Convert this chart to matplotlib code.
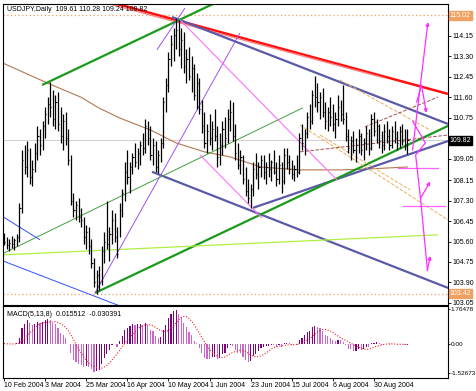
import numpy as np
import pandas as pd
import matplotlib
matplotlib.use("Agg")
import matplotlib.pyplot as plt
from matplotlib.transforms import blended_transform_factory

# ==================== DATA ====================
# daily USDJPY bars, 10 Feb 2004 .. mid Sep 2004
highs = [
    105.95, 105.80, 105.70, 105.85, 105.75, 105.90, 107.20, 109.40, 109.60, 109.80,
    109.50, 109.00, 109.70, 110.40, 110.30, 110.60, 111.20, 111.60, 112.25, 111.90,
    111.70, 111.80, 111.20, 110.90, 111.00, 110.30, 109.20, 107.60, 107.30, 107.40,
    107.00, 106.60, 106.30, 106.20, 105.70, 104.90, 104.40, 104.60, 105.40, 106.00,
    107.30, 106.20, 106.90, 106.80, 106.20, 107.20, 107.80, 108.90, 109.40, 108.90,
    109.30, 109.70, 109.50, 109.80, 110.10, 110.70, 110.60, 110.40, 109.90, 109.80,
    109.40, 109.90, 111.60, 112.40, 113.50, 114.20, 114.50, 114.90, 114.80, 114.50,
    114.30, 113.60, 113.70, 113.30, 113.00, 112.60, 112.40, 111.50, 111.00, 110.50,
    110.90, 110.60, 111.10, 110.40, 110.10, 110.60, 110.80, 111.10, 111.50, 111.40,
    110.50, 109.70, 109.40, 109.20, 108.70, 108.20, 108.00, 108.90, 109.30, 108.90,
    109.20, 109.20, 108.90, 109.30, 109.00, 109.40, 108.90, 109.20, 108.90, 109.50,
    109.50, 109.20, 109.00, 108.80, 109.20, 110.10, 110.50, 110.30, 111.00, 111.30,
    111.90, 112.50, 112.20, 111.80, 112.00, 111.40, 111.20, 111.60, 111.30, 111.00,
    111.70, 111.50, 112.10, 111.00, 110.30, 110.00, 110.20, 109.90, 110.30, 110.10,
    109.90, 110.40, 110.30, 110.90, 111.00, 110.70, 110.50, 110.20, 110.50, 110.60,
    110.30, 110.40, 110.60, 110.20, 110.40, 110.50, 110.30, 110.28,
]
lows = [
    105.45, 105.30, 105.20, 105.35, 105.25, 105.40, 105.60, 106.80, 108.40, 108.30,
    108.00, 107.90, 108.50, 109.00, 109.20, 109.40, 109.90, 110.50, 110.80, 110.40,
    110.30, 110.20, 109.70, 109.40, 109.60, 108.80, 107.10, 106.60, 106.50, 106.40,
    106.20, 105.50, 105.30, 105.10, 104.50, 103.70, 103.42, 103.60, 103.80, 104.70,
    105.30, 104.80, 105.50, 105.60, 104.90, 105.80, 106.60, 107.30, 108.00, 107.60,
    108.40, 108.70, 108.60, 108.80, 109.20, 109.30, 109.60, 109.00, 108.80, 108.50,
    108.45, 108.90, 109.50, 111.00, 111.80, 112.90, 113.10, 113.60, 113.30, 112.80,
    112.60, 112.20, 112.30, 111.80, 111.50, 111.10, 110.90, 110.10, 109.50, 109.30,
    109.60, 109.40, 109.80, 108.70, 108.80, 109.20, 109.50, 109.70, 110.20, 109.80,
    109.00, 108.60, 108.40, 108.00, 107.50, 107.20, 107.00, 107.50, 108.20, 107.80,
    108.30, 108.20, 108.00, 108.30, 108.10, 108.40, 107.90, 108.00, 107.60, 108.00,
    108.60, 108.40, 108.20, 108.10, 108.30, 108.40, 109.40, 109.20, 109.90, 110.30,
    110.50, 111.20, 111.00, 110.70, 110.80, 110.30, 110.20, 110.40, 110.20, 109.90,
    110.40, 110.60, 110.50, 109.80, 109.30, 109.00, 109.30, 108.90, 109.30, 109.20,
    109.00, 109.40, 109.20, 109.40, 110.00, 109.70, 109.50, 109.30, 109.40, 109.70,
    109.40, 109.50, 109.70, 109.40, 109.50, 109.60, 109.40, 109.24,
]
closes = [
    105.60, 105.45, 105.55, 105.50, 105.65, 105.80, 107.00, 109.00, 108.70, 109.40,
    108.30, 108.60, 109.30, 110.00, 109.60, 110.40, 110.90, 111.30, 111.20, 110.70,
    111.40, 110.50, 110.00, 110.60, 109.90, 109.00, 107.30, 106.90, 107.10, 106.60,
    106.50, 105.80, 106.00, 105.40, 104.70, 103.90, 104.20, 103.90, 105.20, 105.60,
    105.50, 105.90, 106.50, 105.80, 105.10, 106.90, 107.60, 108.50, 108.30, 108.70,
    109.10, 108.90, 109.30, 109.60, 109.50, 110.40, 109.90, 109.20, 109.60, 108.70,
    109.20, 109.70, 111.40, 112.10, 113.20, 113.80, 114.20, 114.40, 113.60, 114.00,
    112.90, 113.20, 112.50, 112.80, 111.70, 112.20, 111.10, 110.40, 109.70, 110.20,
    109.90, 110.30, 110.00, 109.10, 109.60, 110.30, 109.90, 110.70, 111.00, 110.00,
    109.30, 108.80, 109.10, 108.20, 107.70, 107.40, 107.80, 108.60, 108.40, 108.70,
    109.00, 108.50, 108.70, 108.60, 108.90, 108.50, 108.20, 108.80, 108.10, 109.20,
    108.90, 108.60, 108.40, 108.60, 108.50, 109.90, 109.70, 110.10, 110.80, 110.60,
    111.70, 111.60, 111.40, 111.60, 111.00, 110.60, 111.00, 110.80, 110.50, 110.70,
    111.20, 110.90, 110.70, 110.00, 109.50, 109.80, 109.40, 109.60, 110.00, 109.40,
    109.70, 110.10, 109.50, 110.70, 110.20, 110.40, 109.80, 109.60, 110.20, 110.00,
    109.60, 110.20, 109.90, 109.70, 110.20, 109.80, 109.61, 109.82,
]

date_labels = ["10 Feb 2004", "3 Mar 2004", "25 Mar 2004", "16 Apr 2004", "10 May 2004",
               "1 Jun 2004", "23 Jun 2004", "15 Jul 2004", "6 Aug 2004", "30 Aug 2004"]
date_pos = [0, 16, 32, 48, 64, 80, 96, 112, 128, 144]

price_ticks = [103.05, 103.90, 104.75, 105.60, 106.45, 107.30, 108.15, 109.05,
               110.75, 111.60, 112.45, 113.30, 114.15]
macd_ticks = [-1.52673, 0.0, 1.76478]

# 200-day moving average, read every few bars (bar index, price)
ma_idx = [-0.4, 18, 30, 37, 45, 57, 67, 78, 88, 100, 115, 131, 142, 157]
ma_val = [113.02, 112.14, 111.60, 111.15, 110.74, 110.24, 109.70, 109.33, 109.12, 108.70,
          108.58, 108.58, 108.62, 108.70]

# trend lines drawn on the chart: (i0, p0, i1, p1, colour, width, style)
trend_lines = [
    (42.0, 115.54, 172.8, 111.74, "#ff1010", 1.8, "-"),
    (42.4, 115.44, 148.2, 112.40, "#ff8080", 1.0, "-"),
    (65.4, 114.94, 172.8, 110.49, "#5a5aa8", 1.6, "-"),
    (57.6, 108.50, 172.8, 103.67, "#5a5aa8", 1.6, "-"),
    (96.9, 107.00, 172.8, 109.78, "#5a5aa8", 1.6, "-"),
    (35.4, 103.46, 172.8, 110.41, "#1a9a1a", 1.6, "-"),
    (14.8, 112.11, 90.0, 115.92, "#1a9a1a", 1.6, "-"),
    (-1.6, 105.04, 116.3, 111.16, "#40a040", 0.7, "-"),
    (-1.6, 105.04, 168.9, 105.88, "#b0f040", 0.9, "-"),
    (-1.6, 106.71, 14.0, 105.67, "#3050ff", 0.7, "-"),
    (-1.6, 104.84, 49.0, 102.76, "#3050ff", 0.7, "-"),
    (35.4, 103.46, 91.8, 114.27, "#a050f0", 0.7, "-"),
    (59.5, 113.57, 70.4, 115.31, "#a050f0", 0.7, "-"),
    (68.5, 114.82, 129.6, 108.16, "#ff70ff", 0.8, "-"),
    (76.3, 109.20, 100.4, 106.58, "#ff70ff", 0.8, "-"),
    (115.2, 110.45, 172.8, 106.50, "#e8b060", 0.7, "--"),
    (130.7, 112.32, 165.8, 110.24, "#e8b060", 0.7, "--"),
    (123.0, 110.03, 158.0, 107.75, "#e8b060", 0.7, "--"),
    (140.5, 110.37, 168.9, 111.61, "#a05050", 0.7, "--"),
    (115.2, 109.33, 172.8, 110.03, "#a05050", 0.7, "--"),
]

# forecast zig-zags on the right (bar index, price)
arrow_paths = [
    [(159.0, 109.40), (165.0, 114.73)],
    [(160.6, 111.40), (162.5, 112.10), (164.4, 110.95)],
    [(159.1, 110.60), (164.0, 109.70), (160.2, 109.20), (162.1, 107.40), (165.9, 108.10)],
    [(162.1, 107.40), (164.8, 104.40), (165.9, 105.00)],
]
magenta_levels = [(153.3, 168.9, 108.66), (155.3, 171.6, 107.08)]

last_close = 109.82
hi_mark = 115.02
lo_mark = 103.42

# ==================== PLOT ====================
plt.rcParams["font.family"] = ["Liberation Sans", "DejaVu Sans"]
FS = 5.0
idx = np.arange(len(closes))

fig = plt.figure(figsize=(4.76, 3.91), dpi=100)
ax = fig.add_axes([3 / 476, 1 - 305 / 391, 445 / 476, 301 / 391])
axm = fig.add_axes([3 / 476, 1 - 378 / 391, 445 / 476, 72 / 391])

ax.set_xlim(-0.4, 172.8)
ax.set_ylim(102.96, 115.48)
axm.set_xlim(-0.4, 172.8)
axm.set_ylim(-1.77, 1.93)

# high / low / bid lines
ax.axhline(hi_mark, color="#f0a060", ls=(0, (1, 2)), lw=0.9)
ax.axhline(lo_mark, color="#f0a060", ls=(0, (1, 2)), lw=0.9)
ax.axhline(last_close, color="#c8c8c8", lw=0.6)

ax.plot(ma_idx, ma_val, color="#b07850", lw=0.8)

for i0, p0, i1, p1, c, w, s in trend_lines:
    ax.plot([i0, i1], [p0, p1], color=c, lw=w, ls=s, solid_capstyle="butt")

for i0, i1, p in magenta_levels:
    ax.plot([i0, i1], [p, p], color="#ff60ff", lw=0.9)
for path in arrow_paths:
    xs = [pt[0] for pt in path]
    ys = [pt[1] for pt in path]
    ax.plot(xs[:-1], ys[:-1], color="#ff30ff", lw=0.9)
    ax.annotate("", xy=path[-1], xytext=path[-2],
                arrowprops=dict(arrowstyle="-|>", color="#ff30ff", lw=0.9,
                                mutation_scale=5, shrinkA=0, shrinkB=0))

# price bars
ax.vlines(idx, lows, highs, color="black", lw=0.9)
ax.hlines(closes, idx, idx + 0.45, color="black", lw=0.8)

ax.text(0.008, 0.992, "USDJPY,Daily  109.61 110.28 109.24 109.82", transform=ax.transAxes,
        fontsize=FS, va="top", ha="left")

ax.yaxis.tick_right()
ax.set_yticks(price_ticks)
ax.set_yticklabels([f"{t:.2f}" for t in price_ticks])
ax.tick_params(axis="y", labelsize=FS, length=2, pad=1, width=0.6)
ax.set_xticks([])

trans = blended_transform_factory(ax.transAxes, ax.transData)
ax.text(1.004, last_close, f"{last_close:.2f}", transform=trans, fontsize=FS, color="white",
        va="center", ha="left", bbox=dict(boxstyle="square,pad=0.15", fc="black", ec="black"))
for v in [hi_mark, lo_mark]:
    ax.text(1.004, v, f"{v:.2f}", transform=trans, fontsize=FS, color="white",
            va="center", ha="left", bbox=dict(boxstyle="square,pad=0.15", fc="#f0a060", ec="#f0a060"))

# MACD(5,13,8)
cl = pd.Series(closes)
macd = cl.ewm(span=5, adjust=False).mean() - cl.ewm(span=13, adjust=False).mean()
signal = macd.rolling(8, min_periods=1).mean()
rising = macd.diff().fillna(0) >= 0
bar_cols = np.where(rising, "#800080", "#cc66cc")
axm.bar(idx, macd, width=0.45, color=bar_cols, linewidth=0)
axm.plot(idx, signal, color="#ff2020", ls=(0, (1, 1.5)), lw=0.8)
axm.text(0.01, 0.93, "MACD(5,13,8)  0.015512  -0.030391", transform=axm.transAxes,
         fontsize=FS, va="top", ha="left")

axm.yaxis.tick_right()
axm.set_yticks(macd_ticks)
axm.set_yticklabels(["-1.52673", "0.00", "1.76478"])
axm.tick_params(axis="y", labelsize=4.6, length=1.5, pad=0.5, width=0.6)
axm.set_xticks(date_pos)
axm.set_xticklabels(date_labels, ha="left")
axm.tick_params(axis="x", labelsize=FS, length=2, pad=1, width=0.6)

for a in (ax, axm):
    for sp in a.spines.values():
        sp.set_linewidth(0.8)

fig.savefig("out.png", dpi=100)
